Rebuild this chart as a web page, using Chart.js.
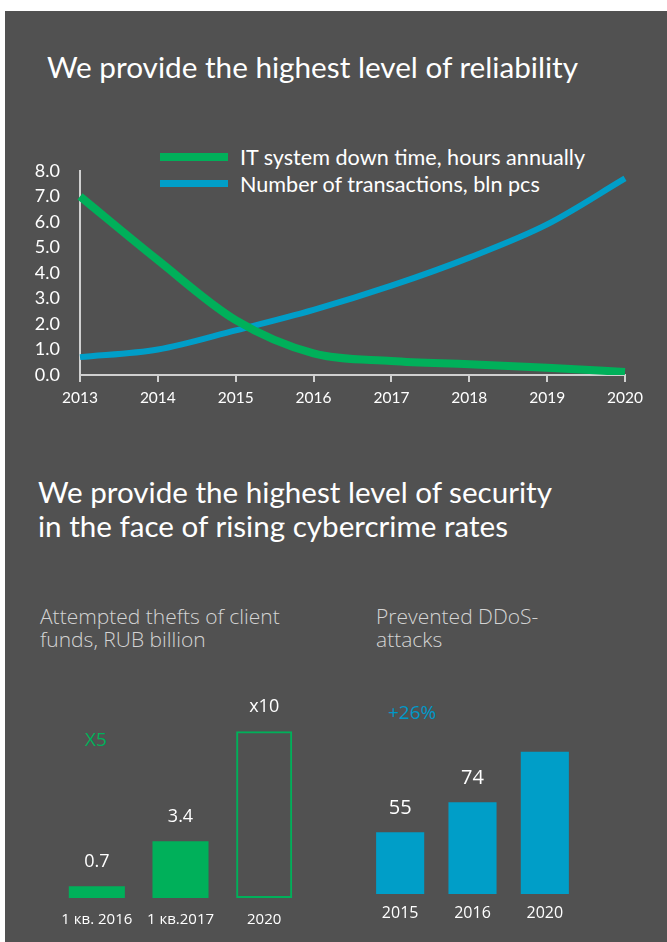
<!DOCTYPE html>
<html>
<head>
<meta charset="utf-8">
<script src="https://cdn.jsdelivr.net/npm/chart.js@4/dist/chart.umd.min.js"></script>
<style>
  html, body { margin: 0; padding: 0; background: #ffffff; }
  #page { position: relative; width: 667px; height: 942px; overflow: hidden; background: #ffffff; }
  #panel { position: absolute; left: 5px; top: 11px; width: 662px; height: 931px; background: #515151; }
  .txt { position: absolute; white-space: nowrap; color: #ffffff; font-family: Lato, "Noto Sans", sans-serif; }
  canvas { position: absolute; }
  .lg-line { position: absolute; height: 8px; border-radius: 0; }
</style>
</head>
<body>
<div id="page">
  <div id="panel"></div>

  <div class="txt" id="title1" style="left:47px; top:49px; font-size:29.7px; line-height:36px;">We provide the highest level of reliability</div>

  <div class="lg-line" style="left:160px; top:153px; width:68px; background:#00B05A;"></div>
  <div class="lg-line" style="left:160px; top:180px; width:68px; height:7px; background:#009EC8;"></div>
  <div class="txt" id="lg1" style="left:240px; top:144px; font-size:21.6px; line-height:26px;">IT system down time, hours annually</div>
  <div class="txt" id="lg2" style="left:240px; top:171px; font-size:21.6px; line-height:26px;">Number of transactions, bln pcs</div>

  <div class="txt" id="title2" style="left:38px; top:475px; font-size:29.6px; line-height:34px;">We provide the highest level of security<br>in the face of rising cybercrime rates</div>

  <div class="txt" style="left:40px; top:605px; font-size:21px; line-height:23px; color:#d4d4d4; font-family:'Open Sans', sans-serif; font-weight:300;">Attempted thefts of client<br>funds, RUB billion</div>
  <div class="txt" style="left:376px; top:605px; font-size:21px; line-height:23px; color:#d4d4d4; font-family:'Open Sans', sans-serif; font-weight:300;">Prevented DDoS-<br>attacks</div>

  <div class="txt" style="left:85px; top:727px; font-size:19px; line-height:24px; color:#00B05A; font-family:'Open Sans', sans-serif;">X5</div>
  <div class="txt" style="left:388px; top:700px; font-size:19px; line-height:24px; color:#0098C8; font-family:'Open Sans', sans-serif;">+26%</div>

  <canvas id="lineChart" style="left:0px; top:140px;"></canvas>
  <canvas id="theftChart" style="left:0px; top:680px;"></canvas>
  <canvas id="ddosChart" style="left:330px; top:680px;"></canvas>
</div>

<script>
// ---------- DATA ----------
const years = ['2013', '2014', '2015', '2016', '2017', '2018', '2019', '2020'];
const downTimeHours = [7.0, 4.5, 2.15, 0.85, 0.55, 0.42, 0.28, 0.12];
const transactionsBln = [0.7, 1.0, 1.75, 2.55, 3.5, 4.6, 5.9, 7.7];
const yTickValues = [0, 1, 2, 3, 4, 5, 6, 7, 8];

const theftCategories = ['1 кв. 2016', '1 кв.2017', '2020'];
const theftValues = [0.7, 3.4, 10];
const theftLabels = ['0.7', '3.4', 'x10'];

const ddosCategories = ['2015', '2016', '2020'];
const ddosValues = [55, 74, 106];
const ddosLabels = ['55', '74', ''];

// ---------- STYLE ----------
const GREEN = '#00B05A';
const BLUE = '#009EC8';
const AXIS = '#d0d0d0';
const FONT = 'Lato, "Noto Sans", sans-serif';
const FONT2 = '"Open Sans", sans-serif';

Chart.defaults.animation = false;
Chart.defaults.responsive = false;
Chart.defaults.devicePixelRatio = 1;

function sizeCanvas(id, w, h) {
  const c = document.getElementById(id);
  c.width = w; c.height = h;
  c.style.width = w + 'px'; c.style.height = h + 'px';
  return c;
}

// ---------- LINE CHART ----------
new Chart(sizeCanvas('lineChart', 667, 280), {
  type: 'line',
  data: {
    labels: years,
    datasets: [
      { label: 'IT system down time, hours annually', data: downTimeHours, borderColor: GREEN, borderWidth: 8, pointRadius: 0, cubicInterpolationMode: 'monotone', fill: false },
      { label: 'Number of transactions, bln pcs', data: transactionsBln, borderColor: BLUE, borderWidth: 6, pointRadius: 0, cubicInterpolationMode: 'monotone', fill: false }
    ]
  },
  options: {
    layout: { padding: { top: 26, right: 42, left: 0, bottom: 0 } },
    plugins: { legend: { display: false }, tooltip: { enabled: false } },
    scales: {
      x: {
        offset: false,
        grid: { drawOnChartArea: false, drawTicks: true, tickLength: 7, color: AXIS, lineWidth: 2 },
        border: { display: true, color: AXIS, width: 2 },
        ticks: { color: '#ffffff', font: { family: FONT, size: 15.5 }, padding: 7, maxRotation: 0, autoSkip: false },
        afterFit: s => { s.height = 45; }
      },
      y: {
        min: 0, max: 8,
        afterBuildTicks: s => { s.ticks = yTickValues.map(v => ({ value: v })); },
        grid: { drawOnChartArea: false, drawTicks: false },
        border: { display: true, color: AXIS, width: 2 },
        ticks: { color: '#ffffff', font: { family: FONT, size: 18 }, padding: 20, callback: v => Number(v).toFixed(1) },
        afterFit: s => { s.width = 80; }
      }
    }
  }
});

// ---------- BAR LABEL PLUGIN ----------
function barLabelPlugin(labels, size, offset) {
  return {
    id: 'barLabels',
    afterDatasetsDraw(chart) {
      const ctx = chart.ctx;
      const meta = chart.getDatasetMeta(0);
      ctx.save();
      ctx.fillStyle = '#ffffff';
      ctx.font = size + 'px ' + FONT2;
      ctx.textAlign = 'center';
      ctx.textBaseline = 'middle';
      meta.data.forEach((bar, i) => {
        if (labels[i]) ctx.fillText(labels[i], bar.x, bar.y - offset);
      });
      ctx.restore();
    }
  };
}

// ---------- THEFT BAR CHART ----------
const lastTheft = theftValues.length - 1;
new Chart(sizeCanvas('theftChart', 330, 262), {
  type: 'bar',
  data: {
    labels: theftCategories,
    datasets: [{
      data: theftValues,
      backgroundColor: c => c.dataIndex === lastTheft ? 'rgba(0,0,0,0)' : GREEN,
      borderColor: GREEN,
      borderWidth: c => c.dataIndex === lastTheft ? 2 : 0,
      borderSkipped: false,
      categoryPercentage: 1,
      barPercentage: 0.67
    }]
  },
  options: {
    layout: { padding: { top: 18, right: 24, left: 55, bottom: 0 } },
    plugins: { legend: { display: false }, tooltip: { enabled: false } },
    scales: {
      x: {
        grid: { display: false, drawTicks: false },
        border: { display: false },
        ticks: { color: '#ffffff', font: { family: FONT2, size: 15 }, padding: 13, maxRotation: 0, autoSkip: false },
        afterFit: s => { s.height = 44; }
      },
      y: { display: false, min: 0, max: 12 }
    }
  },
  plugins: [barLabelPlugin(theftLabels, 18, 24)]
});

// ---------- DDOS BAR CHART ----------
new Chart(sizeCanvas('ddosChart', 337, 262), {
  type: 'bar',
  data: {
    labels: ddosCategories,
    datasets: [{
      data: ddosValues,
      backgroundColor: BLUE,
      borderWidth: 0,
      categoryPercentage: 1,
      barPercentage: 0.665
    }]
  },
  options: {
    layout: { padding: { top: 18, right: 86, left: 34, bottom: 0 } },
    plugins: { legend: { display: false }, tooltip: { enabled: false } },
    scales: {
      x: {
        grid: { display: false, drawTicks: false },
        border: { display: false },
        ticks: { color: '#ffffff', font: { family: FONT2, size: 16 }, padding: 10, maxRotation: 0, autoSkip: false },
        afterFit: s => { s.height = 48; }
      },
      y: { display: false, min: 16, max: 140 }
    }
  },
  plugins: [barLabelPlugin(ddosLabels, 20, 24)]
});
</script>
</body>
</html>
